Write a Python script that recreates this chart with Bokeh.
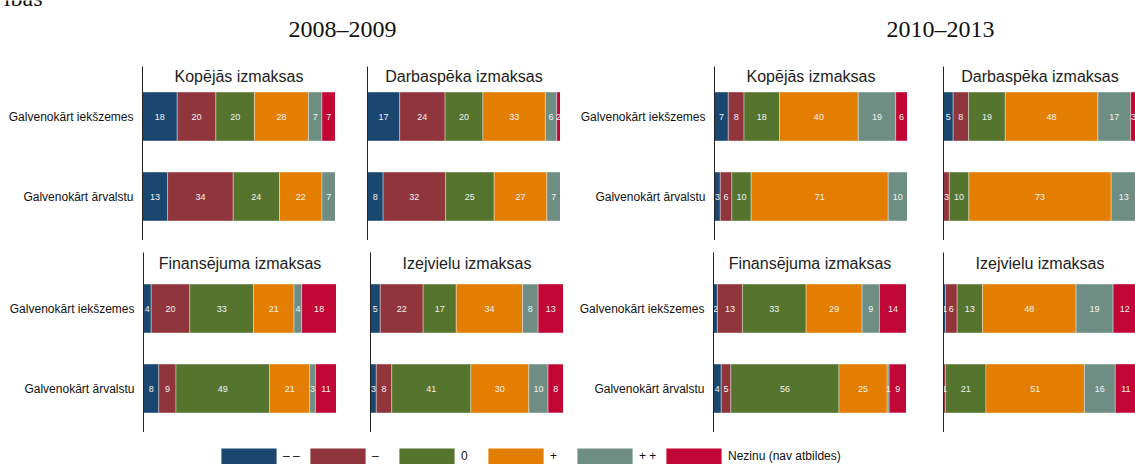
from bokeh.plotting import figure
from bokeh.models import ColumnDataSource, Range1d, FixedTicker, Label, Legend, LegendItem
from bokeh.layouts import row, column
from bokeh.embed import file_html
from bokeh.resources import INLINE
from bokeh.core.properties import value

# ---------------- data ----------------
categories = ["– –", "–", "0", "+", "+ +", "Nezinu (nav atbildes)"]
colors = ["#1a476f", "#90353b", "#55752f", "#e37e00", "#6e8e84", "#c10534"]
groups = ["Galvenokārt iekšzemes", "Galvenokārt ārvalstu"]
periods = ["2008–2009", "2010–2013"]
cost_types = ["Kopējās izmaksas", "Darbaspēka izmaksas",
              "Finansējuma izmaksas", "Izejvielu izmaksas"]

# 2008–2009  (order: – –, –, 0, +, + +, Nezinu)
kop_0809_iek = [18, 20, 20, 28, 7, 7]
kop_0809_arv = [13, 34, 24, 22, 7, 0]
darb_0809_iek = [17, 24, 20, 33, 6, 2]
darb_0809_arv = [8, 32, 25, 27, 7, 0]
fin_0809_iek = [4, 20, 33, 21, 4, 18]
fin_0809_arv = [8, 9, 49, 21, 3, 11]
izej_0809_iek = [5, 22, 17, 34, 8, 13]
izej_0809_arv = [3, 8, 41, 30, 10, 8]
# 2010–2013
kop_1013_iek = [7, 8, 18, 40, 19, 6]
kop_1013_arv = [3, 6, 10, 71, 10, 0]
darb_1013_iek = [5, 8, 19, 48, 17, 3]
darb_1013_arv = [0, 3, 10, 73, 13, 0]
fin_1013_iek = [2, 13, 33, 29, 9, 14]
fin_1013_arv = [4, 5, 56, 25, 1, 9]
izej_1013_iek = [1, 6, 13, 48, 19, 12]
izej_1013_arv = [0, 1, 21, 51, 16, 11]

# ---------------- layout constants ----------------
SANS = "Liberation Sans"
SERIF = "Liberation Serif"
KEYS = ["c%d" % i for i in range(len(categories))]
Y0 = -0.55
PX100 = 193          # pixels for 100 %
TOTAL_W = 1135


def make_panel(iek, arv, title, left, fw, show_labels, title_y, top_border,
               frame_h, y1):
    p = figure(frame_width=fw, frame_height=frame_h,
               x_range=Range1d(0, 100.0 * fw / PX100), y_range=Range1d(Y0, y1),
               output_backend="svg", toolbar_location=None, x_axis_location=None,
               title=None, min_border_left=left, min_border_right=0,
               min_border_top=top_border, min_border_bottom=0,
               outline_line_color=None, border_fill_color=None,
               background_fill_color=None)
    p.xgrid.visible = False
    p.ygrid.visible = False

    rows_ = [iek, arv]
    yv = [1, 0]
    data = {"y": yv}
    for k, key in enumerate(KEYS):
        data[key] = [r[k] * 100.0 / sum(r) for r in rows_]
    src = ColumnDataSource(data)
    p.hbar_stack(KEYS, y="y", height=0.61, fill_color=colors,
                 line_color="white", line_width=0.6, line_alpha=0.6, source=src)

    xs, ys, ls = [], [], []
    for r, yy in zip(rows_, yv):
        tot = float(sum(r))
        cum = 0.0
        for v in r:
            w = v * 100.0 / tot
            if v > 0:
                xs.append(cum + w / 2.0)
                ys.append(yy)
                ls.append(str(v))
            cum += w
    p.text(x=xs, y=ys, text=ls, text_font=value(SANS), text_font_size="9px",
           text_color="#f2f2f2", text_align="center", text_baseline="middle")

    p.add_layout(Label(x=50, y=title_y, text=title, text_align="center",
                       text_baseline="alphabetic", text_font=SANS,
                       text_font_size="16px", text_color="#222222"))

    ax = p.yaxis[0]
    ax.major_tick_out = 0
    ax.major_tick_in = 0
    ax.minor_tick_out = 0
    ax.minor_tick_in = 0
    ax.major_tick_line_color = None
    ax.minor_tick_line_color = None
    ax.axis_line_color = "#222222"
    ax.axis_line_width = 1
    if show_labels:
        ax.ticker = FixedTicker(ticks=[0, 1])
        ax.major_label_overrides = {0: groups[1], 1: groups[0]}
        ax.major_label_standoff = 9
        ax.major_label_text_font = SANS
        ax.major_label_text_font_size = "12px"
        ax.major_label_text_color = "#111111"
    else:
        ax.ticker = FixedTicker(ticks=[])
        ax.major_label_standoff = 0
    return p


# header
header = figure(width=TOTAL_W, height=66, x_range=Range1d(0, TOTAL_W),
                y_range=Range1d(66, 0), output_backend="svg", toolbar_location=None,
                x_axis_location=None, y_axis_location=None, title=None,
                min_border_left=0, min_border_right=0, min_border_top=0,
                min_border_bottom=0, outline_line_color=None)
header.xgrid.visible = False
header.ygrid.visible = False
header.add_layout(Label(x=42, y=-3, text="ibas", text_align="right",
                        text_baseline="alphabetic", text_font=SERIF,
                        text_font_size="24px", text_color="#111111"))
header.add_layout(Label(x=342, y=28, text=periods[0], text_align="center",
                        text_baseline="alphabetic", text_font=SERIF,
                        text_font_size="24px", text_color="#111111"))
header.add_layout(Label(x=940, y=28, text=periods[1], text_align="center",
                        text_baseline="alphabetic", text_font=SERIF,
                        text_font_size="24px", text_color="#111111"))

# panels
TOP = dict(top_border=0, frame_h=174, y1=1.625)
BOT = dict(top_border=12, frame_h=180, y1=1.7)
top_row = row(
    make_panel(kop_0809_iek, kop_0809_arv, cost_types[0], 142, 193, True, 1.5, **TOP),
    make_panel(darb_0809_iek, darb_0809_arv, cost_types[1], 32, 193, False, 1.5, **TOP),
    make_panel(kop_1013_iek, kop_1013_arv, cost_types[0], 154, 193, True, 1.5, **TOP),
    make_panel(darb_1013_iek, darb_1013_arv, cost_types[1], 36, 192, False, 1.5, **TOP),
)
bottom_row = row(
    make_panel(fin_0809_iek, fin_0809_arv, cost_types[2], 143, 193, True, 1.5625, **BOT),
    make_panel(izej_0809_iek, izej_0809_arv, cost_types[3], 34, 193, False, 1.5625, **BOT),
    make_panel(fin_1013_iek, fin_1013_arv, cost_types[2], 150, 193, True, 1.5625, **BOT),
    make_panel(izej_1013_iek, izej_1013_arv, cost_types[3], 37, 192, False, 1.5625, **BOT),
)

# legend
lf = figure(width=TOTAL_W, height=32, x_range=Range1d(0, 1), y_range=Range1d(0, 1),
            output_backend="svg", toolbar_location=None, x_axis_location=None,
            y_axis_location=None, title=None, min_border_left=0, min_border_right=0,
            min_border_top=0, min_border_bottom=0, outline_line_color=None)
lf.xgrid.visible = False
lf.ygrid.visible = False
items = []
for cat, col in zip(categories, colors):
    r = lf.hbar(y=[-10], left=[0], right=[1], height=1, fill_color=col, line_color=None)
    items.append(LegendItem(label=cat, renderers=[r]))
legend = Legend(items=items, orientation="horizontal", location=(214, -2),
                glyph_width=69, glyph_height=20, label_standoff=0, label_width=20,
                label_height=20, spacing=0, padding=0, margin=0,
                border_line_color=None, background_fill_alpha=0,
                label_text_font=SANS, label_text_font_size="12px",
                label_text_color="#111111")
lf.add_layout(legend, "center")

root = column(header, top_row, bottom_row, lf)
open("out.html", "w").write(file_html(root, INLINE))
